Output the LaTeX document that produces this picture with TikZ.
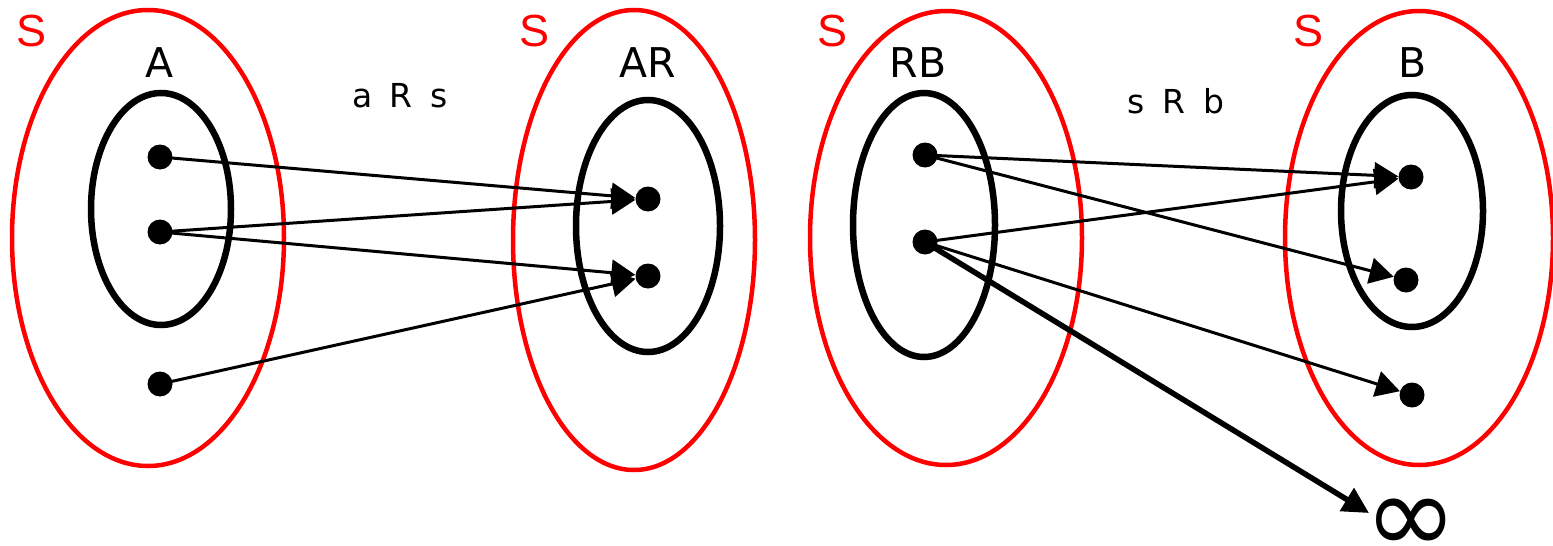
\documentclass[tikz,border=0pt]{standalone}
\usepackage{fontspec}
\setmainfont{DejaVu Sans}
\newfontfamily\redfont{Liberation Sans}
\usetikzlibrary{arrows.meta}
\tikzset{
  outerset/.style={draw=red, line width=4.5pt},
  innerset/.style={draw=black, line width=6.5pt},
  elem/.style={circle, fill=black, inner sep=0pt, minimum size=25pt},
  rel/.style={draw=black, line width=3pt, -{Triangle[length=24pt,width=26pt]}},
  bigrel/.style={draw=black, line width=5.5pt, -{Triangle[length=26pt,width=26pt]}},
  slabel/.style={text=red, font=\redfont\fontsize{45}{45}\selectfont},
  setlabel/.style={font=\fontsize{41}{41}\selectfont},
  rlabel/.style={font=\fontsize{33}{33}\selectfont},
}
\begin{document}
\begin{tikzpicture}[x=1pt,y=-1pt]
\useasboundingbox (0,0) rectangle (1553,546);
% outer red sets
\draw[outerset] (148,238) ellipse [x radius=136, y radius=228];
\draw[outerset] (634,240) ellipse [x radius=121, y radius=230];
\draw[outerset] (946,238) ellipse [x radius=136, y radius=227];
\draw[outerset] (1419,238) ellipse [x radius=134, y radius=227];
% inner black sets
\draw[innerset] (161,209) ellipse [x radius=70, y radius=116];
\draw[innerset] (648,226) ellipse [x radius=72, y radius=126];
\draw[innerset] (924,225) ellipse [x radius=71, y radius=132];
\draw[innerset] (1412,211) ellipse [x radius=71, y radius=116];
% labels
\node[slabel] (s1) at (32,31) {S};
\node[slabel] (s2) at (535,31) {S};
\node[slabel] (s3) at (832,31) {S};
\node[slabel] (s4) at (1308,31) {S};
\node[setlabel] (lA) at (160,63) {A};
\node[setlabel] (lAR) at (648,63) {AR};
\node[setlabel] (lRB) at (918,63) {RB};
\node[setlabel] (lB) at (1413,63) {B};
\node[rlabel] (r1) at (400,96) {a\hspace{17pt}R\hspace{18pt}s};
\node[rlabel] (r2) at (1176,101) {s\hspace{17pt}R\hspace{18pt}b};
% elements
\node[elem] (a1) at (160,157) {};
\node[elem] (a2) at (160,232) {};
\node[elem] (a3) at (160,384) {};
\node[elem] (ar1) at (648,199) {};
\node[elem] (ar2) at (648,276) {};
\node[elem] (rb1) at (925,155) {};
\node[elem] (rb2) at (925,242) {};
\node[elem] (b1) at (1411,177) {};
\node[elem] (b2) at (1406,280) {};
\node[elem] (b3) at (1412,395) {};
\node[font=\fontsize{112}{112}\selectfont, inner sep=0pt] (inf) at (1411,526) {∞};
\coordinate (infend) at (1369,513);
% relations
\draw[rel] (a1.center) -- (ar1);
\draw[rel] (a2.center) -- (ar1);
\draw[rel] (a2.center) -- (ar2);
\draw[rel] (a3.center) -- (ar2);
\draw[rel] (rb1.center) -- (b1);
\draw[rel] (rb1.center) -- (b2);
\draw[rel] (rb2.center) -- (b1);
\draw[rel] (rb2.center) -- (b3);
\draw[bigrel] (rb2.center) -- (infend);
\end{tikzpicture}
\end{document}
